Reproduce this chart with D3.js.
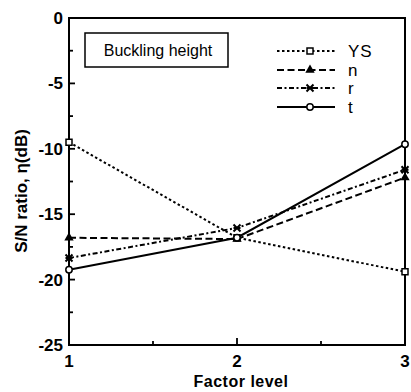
<!DOCTYPE html>
<html>
<head>
<meta charset="utf-8">
<script src="https://cdn.jsdelivr.net/npm/d3@7"></script>
<style>
  body { margin: 0; background: #fff; }
  svg { font-family: "Liberation Sans", Arial, sans-serif; }
</style>
</head>
<body>
<svg id="chart" width="411" height="392"></svg>
<script>
// factor levels and S/N ratios
const levels = [1, 2, 3];
const seriesNames = ["YS", "n", "r", "t"];
const ys = [-9.5, -16.8, -19.4];
const nVals = [-16.8, -16.9, -12.2];
const rVals = [-18.35, -16.05, -11.6];
const tVals = [-19.25, -16.8, -9.65];
const yTicks = [0, -5, -10, -15, -20, -25];
const yMinor = [-2.5, -7.5, -12.5, -17.5, -22.5];
const xTicks = [1, 2, 3];
const xMinor = [1.5, 2.5];

const svg = d3.select("#chart");
const pLeft = 69, pRight = 405, pTop = 18, pBottom = 345;

const x = d3.scaleLinear().domain([1, 3]).range([pLeft, pRight]);
const y = d3.scaleLinear().domain([-25, 0]).range([pBottom, pTop]);

const styles = {
  YS: { dash: "2.5,2.5", marker: "square" },
  n: { dash: "7,3.5", marker: "triangle" },
  r: { dash: "5,2.5,2,2.5", marker: "cross" },
  t: { dash: null, marker: "circle" }
};
const data = { YS: ys, n: nVals, r: rVals, t: tVals };

function marker(g, kind, cx, cy) {
  if (kind === "square") {
    g.append("rect").attr("x", cx - 3).attr("y", cy - 3).attr("width", 6).attr("height", 6)
      .attr("fill", "#fff").attr("stroke", "#000").attr("stroke-width", 1.5);
  } else if (kind === "circle") {
    g.append("circle").attr("cx", cx).attr("cy", cy).attr("r", 3.2)
      .attr("fill", "#fff").attr("stroke", "#000").attr("stroke-width", 1.5);
  } else if (kind === "triangle") {
    g.append("path").attr("d", d3.symbol(d3.symbolTriangle, 38)())
      .attr("transform", `translate(${cx},${cy})`).attr("fill", "#000");
  } else {
    g.append("path").attr("d", `M${cx-3.5},${cy-3.5}L${cx+3.5},${cy+3.5}M${cx+3.5},${cy-3.5}L${cx-3.5},${cy+3.5}M${cx-3.5},${cy}L${cx+3.5},${cy}`)
      .attr("stroke", "#000").attr("stroke-width", 2);
  }
}

// frame
svg.append("rect").attr("x", pLeft).attr("y", pTop).attr("width", pRight - pLeft).attr("height", pBottom - pTop)
  .attr("fill", "none").attr("stroke", "#000").attr("stroke-width", 2);

// inward ticks
const tk = svg.append("g").attr("stroke", "#000").attr("stroke-width", 1.8);
tk.selectAll(".ym").data(yTicks.concat(yMinor)).join("line")
  .attr("x1", pLeft).attr("x2", d => pLeft + (yTicks.includes(d) ? 6 : 4))
  .attr("y1", d => y(d)).attr("y2", d => y(d));
tk.selectAll(".xm").data(xTicks.concat(xMinor)).join("line")
  .attr("x1", d => x(d)).attr("x2", d => x(d))
  .attr("y1", pBottom).attr("y2", d => pBottom - (xTicks.includes(d) ? 7 : 4));

// tick labels
svg.append("g").selectAll("text").data(yTicks).join("text")
  .attr("x", pLeft - 6).attr("y", d => y(d) + 6)
  .attr("text-anchor", "end").attr("font-size", 17).attr("font-weight", "bold")
  .text(d => d);
svg.append("g").selectAll("text").data(xTicks).join("text")
  .attr("x", d => x(d)).attr("y", pBottom + 22)
  .attr("text-anchor", "middle").attr("font-size", 17).attr("font-weight", "bold")
  .text(d => d);

svg.append("text").attr("x", x(2) + 4).attr("y", 387).attr("text-anchor", "middle")
  .attr("font-size", 16).attr("font-weight", "bold").attr("letter-spacing", 0.5).text("Factor level");
svg.append("text").attr("transform", `translate(27,191) rotate(-90)`)
  .attr("text-anchor", "middle").attr("font-size", 17).attr("font-weight", "bold")
  .text("S/N ratio, η(dB)");

// series
const line = d3.line().x((d, i) => x(levels[i])).y(d => y(d));
seriesNames.forEach(name => {
  const st = styles[name];
  svg.append("path").datum(data[name]).attr("d", line)
    .attr("fill", "none").attr("stroke", "#000").attr("stroke-width", 2)
    .attr("stroke-dasharray", st.dash);
});
seriesNames.forEach(name => {
  const g = svg.append("g");
  data[name].forEach((v, i) => marker(g, styles[name].marker, x(levels[i]), y(v)));
});

// title box
svg.append("rect").attr("x", 85).attr("y", 33).attr("width", 143).attr("height", 34)
  .attr("fill", "#fff").attr("stroke", "#000").attr("stroke-width", 1.5);
svg.append("text").attr("x", 158).attr("y", 56).attr("text-anchor", "middle")
  .attr("font-size", 16).text("Buckling height");

// legend
const legY = [51, 70, 88, 107];
seriesNames.forEach((name, i) => {
  const st = styles[name];
  svg.append("line").attr("x1", 277).attr("x2", 335).attr("y1", legY[i]).attr("y2", legY[i])
    .attr("stroke", "#000").attr("stroke-width", 2).attr("stroke-dasharray", st.dash);
  marker(svg.append("g"), st.marker, 310, legY[i]);
  svg.append("text").attr("x", 348).attr("y", legY[i] + 6).attr("font-size", 17)
    .attr("letter-spacing", 1).text(name);
});
</script>
</body>
</html>
